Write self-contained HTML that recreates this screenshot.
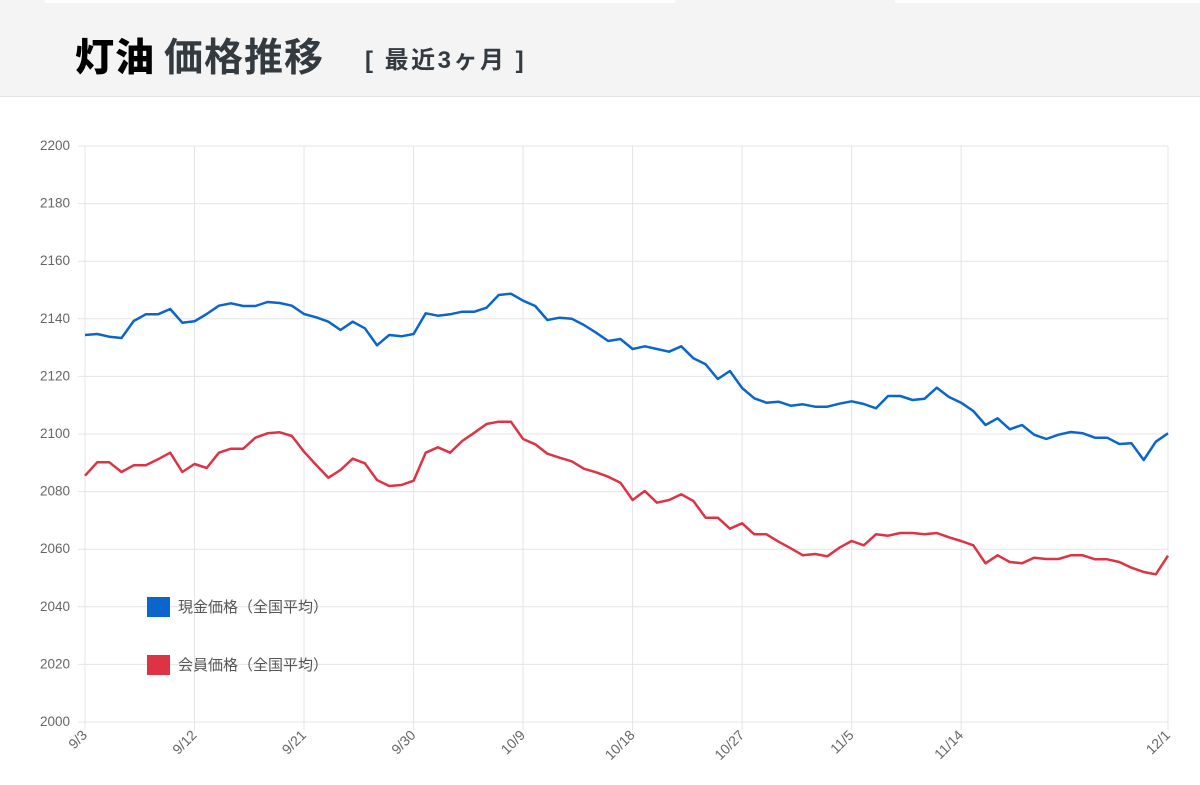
<!DOCTYPE html>
<html><head><meta charset="utf-8"><style>
body{margin:0;width:1200px;height:785px;background:#fff;overflow:hidden;font-family:"Liberation Sans","Noto Sans CJK JP",sans-serif}
.hdr{position:absolute;left:0;top:0;width:1200px;height:96px;background:#f4f4f4;border-bottom:1px solid #e2e2e2}
.t{position:absolute;left:75px;top:27px;font-size:39px;font-weight:bold;color:#333a40;white-space:nowrap;letter-spacing:1px}
.t b{color:#000;margin-right:9px}
.s{position:absolute;left:365px;top:40px;font-size:24px;font-weight:bold;color:#333a40;letter-spacing:2.5px;white-space:nowrap}
</style></head><body>
<div class="hdr"></div>
<div style="position:absolute;left:45px;top:0;width:630px;height:3px;background:#fff"></div>
<div style="position:absolute;left:895px;top:0;width:305px;height:3px;background:#fff"></div>
<div class="t"><b>灯油</b>価格推移</div>
<div class="s">[ 最近3ヶ月 ]</div>
<svg id="c" width="1200" height="785" style="position:absolute;left:0;top:0"></svg>
<script>
const s=document.getElementById('c');let h='';
const X=i=>85+i*1083/89, Y=v=>722-(v-2000)*2.88;
for(let v=2000;v<=2200;v+=20){const y=Y(v);h+=`<line x1="78" x2="1168" y1="${y}" y2="${y}" stroke="#e4e4e4" stroke-width="1"/><text x="70" y="${y+4}" text-anchor="end" font-size="13.5" fill="#666">${v}</text>`;}
const lab=['9/3','9/12','9/21','9/30','10/9','10/18','10/27','11/5','11/14'];
for(let k=0;k<=8;k++){const x=X(k*9);h+=`<line x1="${x}" x2="${x}" y1="146" y2="730" stroke="#e4e4e4"/>`;}
h+=`<line x1="${X(89)}" x2="${X(89)}" y1="146" y2="730" stroke="#e4e4e4"/>`;
lab.forEach((l,k)=>{const x=X(k*9);h+=`<text transform="translate(${x+3},736) rotate(-45)" text-anchor="end" font-size="14" fill="#666">${l}</text>`;});
h+=`<text transform="translate(${X(89)+3},736) rotate(-45)" text-anchor="end" font-size="14" fill="#666">12/1</text>`;
const b1=[195,192,200,204,153,133,133,117,158,154,132,107,100,108,108,96,99,107,132,142,155,180,155,175,226,195,199,192,130,137,133,125,125,113,75,71,92,108,150,143,146,165,188,213];
const b2=[207,237,229,237,245,229,265,283,327,303,354,385,398,395,407,403,410,410,401,394,402,415,378,378,390,386,353,381,398,423,465,445,478,465,494,507,494,486,490,503,503,522,520,570,515,490];
const r1=[617,577,577,606,586,586,568,548,606,582,594,548,536,536,503,490,487,498,545,585,623,600,566,580,630,648,645,632,548,532,548,513,488,462,455,455,507,523,551,563,574,596,607,620];
const r2=[638,690,663,698,690,673,693,743,743,776,760,793,793,815,835,856,852,859,833,813,826,793,797,789,789,793,789,802,813,826,880,856,876,880,863,867,867,856,856,868,868,876,893,906,913,857];
function line(a,c){return `<polyline fill="none" stroke="${c}" stroke-width="2.5" stroke-linejoin="round" points="${a.map((z,i)=>X(i).toFixed(1)+','+(270+z/3).toFixed(1)).join(' ')}"/>`;}
h+=line(b1.concat(b2),'#0a66cc')+line(r1.concat(r2),'#dd3344');
h+=`<rect x="147" y="597" width="23" height="20" fill="#0a66cc"/><text x="178" y="612" font-size="15" fill="#555">現金価格（全国平均）</text>`;
h+=`<rect x="147" y="655" width="23" height="20" fill="#dd3344"/><text x="178" y="670" font-size="15" fill="#555">会員価格（全国平均）</text>`;
s.innerHTML=h;
</script>
</body></html>
